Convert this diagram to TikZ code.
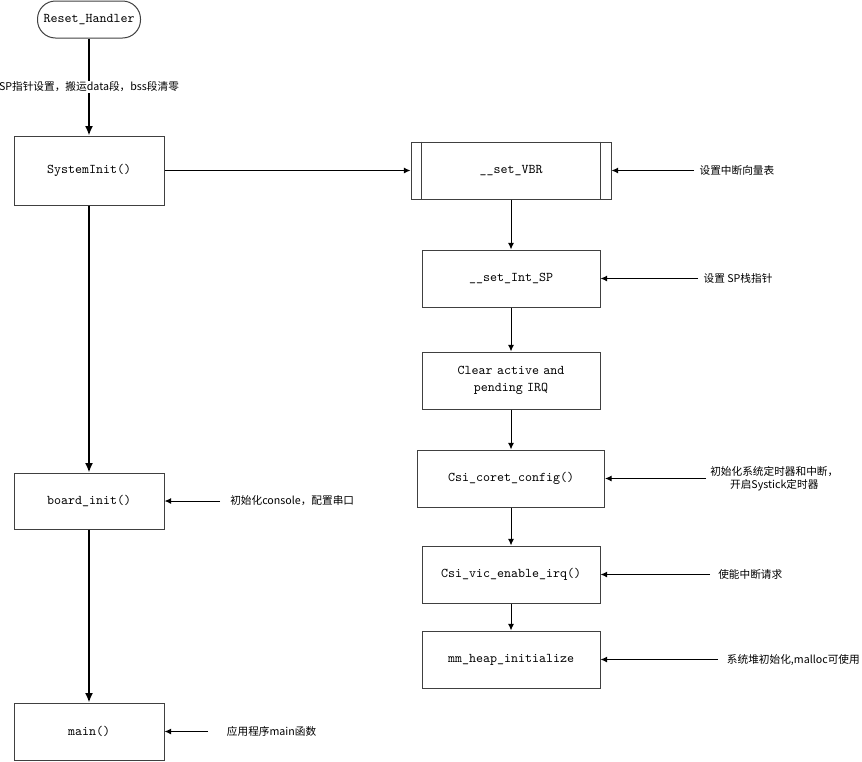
\documentclass[tikz,border=0pt]{standalone}
\usepackage{fontspec}
\newfontfamily\cjk{Noto Sans CJK SC}
\usetikzlibrary{arrows.meta,positioning}

\begin{document}
\begin{tikzpicture}[x=0.75pt,y=-0.75pt,
  box/.style={rectangle,draw=black!75,line width=0.75pt,font=\ttfamily,align=center,inner sep=0pt},
  lbox/.style={box,minimum width=112.5pt},
  rbox/.style={box,minimum width=133.5pt,minimum height=42.75pt},
  note/.style={anchor=west,inner xsep=4pt,inner ysep=1pt,font={\cjk\fontsize{8pt}{10pt}\selectfont},align=center},
  flow/.style={-{Latex[length=7pt,width=6pt]},line width=1.5pt},
  link/.style={-{Latex[length=5pt,width=4.5pt]},line width=0.75pt}]

\useasboundingbox (0,0) rectangle (862,761);

% left column
\node[box,rounded corners=13.5pt,minimum width=77.25pt,minimum height=27.75pt] (reset) at (89,19.5) {Reset\_Handler};
\node[lbox,minimum height=51.75pt] (sysinit) at (89,170.5) {SystemInit()};
\node[lbox,minimum height=42pt] (boardinit) at (89,501) {board\_init()};
\node[lbox,minimum height=42.75pt] (mainfn) at (89,731.5) {main()};

\draw[flow] (reset) -- node[fill=white,inner sep=1pt,font={\cjk\fontsize{8pt}{10pt}\selectfont}] (nreset) {SP指针设置，搬运data段，bss段清零} (sysinit);
\draw[flow] (sysinit) -- (boardinit);
\draw[flow] (boardinit) -- (mainfn);

% right column
\node[box,minimum width=150pt,minimum height=42.75pt] (setvbr) at (511,170.5) {\_\_set\_VBR};
\draw[draw=black!75,line width=0.75pt] ([xshift=8.25pt]setvbr.north west) -- ([xshift=8.25pt]setvbr.south west)
  ([xshift=-8.25pt]setvbr.north east) -- ([xshift=-8.25pt]setvbr.south east);
\node[rbox] (setsp) at (511,278.5) {\_\_set\_Int\_SP};
\node[rbox,text width=133.5pt,font={\ttfamily\baselineskip=12.75pt}] (clrirq) at (511,380.5) {Clear active and\\pending IRQ};
\node[rbox,minimum width=140.25pt] (coret) at (511,478.5) {Csi\_coret\_config()};
\node[rbox] (vicirq) at (511,574.5) {Csi\_vic\_enable\_irq()};
\node[rbox] (heapinit) at (511,659.5) {mm\_heap\_initialize};

\draw[link] (sysinit.east) -- (setvbr.west);
\draw[link] (setvbr) -- (setsp);
\draw[link] (setsp) -- (clrirq);
\draw[link] (clrirq) -- (coret);
\draw[link] (coret) -- (vicirq);
\draw[link] (vicirq) -- (heapinit);

% notes
\node[note] (nvbr) at (694,170.5) {设置中断向量表};
\node[note] (nsp) at (698,278.5) {设置 SP栈指针};
\node[note,inner xsep=3pt] (ncoret) at (706,478.5) {初始化系统定时器和中断，\\开启Systick定时器};
\node[note,inner xsep=6pt] (nvic) at (710,574.5) {使能中断请求};
\node[note,inner xsep=6.5pt] (nheap) at (718,659.5) {系统堆初始化,malloc可使用};
\node[note,inner xsep=7.5pt] (nboard) at (220,501) {初始化console，配置串口};
\node[note,inner xsep=14pt] (nmain) at (208,731.5) {应用程序main函数};

\draw[link] (nvbr.west) -- (setvbr.east);
\draw[link] (nsp.west) -- (setsp.east);
\draw[link] (ncoret.west) -- (coret.east);
\draw[link] (nvic.west) -- (vicirq.east);
\draw[link] (nheap.west) -- (heapinit.east);
\draw[link] (nboard.west) -- (boardinit.east);
\draw[link] (nmain.west) -- (mainfn.east);
\end{tikzpicture}
\end{document}
